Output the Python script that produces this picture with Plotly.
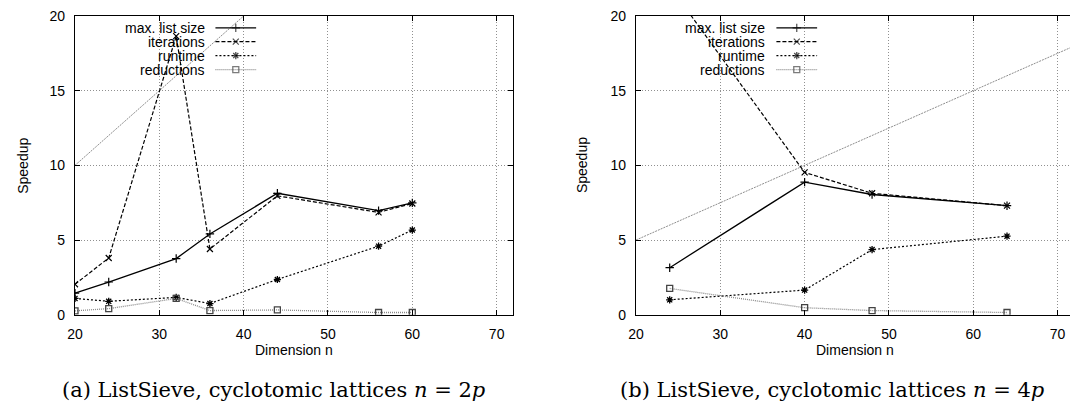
import plotly.graph_objects as go

# ---------------- data ----------------
n_a = [20, 24, 32, 36, 44, 56, 60]
maxlist_a = [1.44, 2.19, 3.76, 5.41, 8.13, 6.97, 7.49]
iter_a = [2.04, 3.80, 18.65, 4.40, 7.96, 6.85, 7.45]
runtime_a = [1.09, 0.90, 1.16, 0.75, 2.36, 4.59, 5.67]
reduct_a = [0.26, 0.41, 1.09, 0.28, 0.32, 0.15, 0.15]
ideal_a_x = [20, 72]
ideal_a_y = [10, 36]

n_b = [24, 40, 48, 64]
maxlist_b = [3.15, 8.88, 8.05, 7.30]
iter_b = [22.0, 9.53, 8.13, 7.30]
runtime_b = [1.00, 1.65, 4.36, 5.26]
reduct_b = [1.76, 0.47, 0.28, 0.15]
ideal_b_x = [20, 72]
ideal_b_y = [5, 18]

x_ticks = [20, 30, 40, 50, 60, 70]
y_ticks = [0, 5, 10, 15, 20]
series_names = ["max. list size", "iterations", "runtime", "reductions"]
captions = ["(a) ListSieve, cyclotomic lattices <i>n</i> = 2<i>p</i>",
            "(b) ListSieve, cyclotomic lattices <i>n</i> = 4<i>p</i>"]

# ---------------- layout constants ----------------
W, H = 1070, 416
FONT = "Liberation Sans, Arial, sans-serif"

PLOT_TOP, PLOT_BOTTOM = 8.3, 319.0
LEFT_A, RIGHT_A = 67.5, 509.3
LEFT_B = 632.7
RIGHT_B = W
PX_PER_UNIT = (RIGHT_A - LEFT_A) / 52.0

styles = [
    dict(line=dict(color="black", width=1.3, dash="solid"),
         marker=dict(symbol="cross-thin-open", size=6, color="black", line=dict(color="black", width=1.2))),
    dict(line=dict(color="black", width=1.2, dash="4px,2px"),
         marker=dict(symbol="x-thin-open", size=6, color="black", line=dict(color="black", width=1.2))),
    dict(line=dict(color="black", width=1.2, dash="2px,2px"),
         marker=dict(symbol="asterisk-open", size=6, color="black", line=dict(color="black", width=1.3))),
    dict(line=dict(color="#8a8a8a", width=1.3, dash="1px,1px"),
         marker=dict(symbol="square-open", size=6, color="#444", line=dict(color="#444", width=1.3))),
]
ideal_style = dict(color="#808080", width=0.9, dash="2px,1px")

fig = go.Figure()

def add_panel(xs, ys_list, ideal_x, ideal_y, xa, ya):
    fig.add_trace(go.Scatter(x=ideal_x, y=ideal_y, mode="lines", line=ideal_style,
                             xaxis=xa, yaxis=ya, showlegend=False, hoverinfo="skip"))
    for name, ys, st in zip(series_names, ys_list, styles):
        fig.add_trace(go.Scatter(x=xs, y=ys, mode="lines+markers", name=name,
                                 line=st["line"], marker=st["marker"],
                                 xaxis=xa, yaxis=ya, showlegend=False))

add_panel(n_a, [maxlist_a, iter_a, runtime_a, reduct_a], ideal_a_x, ideal_a_y, "x", "y")
add_panel(n_b, [maxlist_b, iter_b, runtime_b, reduct_b], ideal_b_x, ideal_b_y, "x2", "y2")

# ---------------- gnuplot-style legend keys (full-figure pixel axis) ----------------
LEG_ROWS = [20.7, 35.0, 49.5, 64.0]
LEG_TEXT_END = 132.5
LEG_LINE_START, LEG_LINE_END = 141.5, 182.5
annotations = []
for left in (LEFT_A, LEFT_B):
    for name, st, ry in zip(series_names, styles, LEG_ROWS):
        x0, x1 = left + LEG_LINE_START, left + LEG_LINE_END
        fig.add_trace(go.Scatter(
            x=[x0, (x0 + x1) / 2, x1], y=[ry, ry, ry], mode="lines+markers",
            line=st["line"],
            marker=dict(symbol=st["marker"]["symbol"], size=[0, 6, 0],
                        color=st["marker"]["color"], line=st["marker"]["line"]),
            xaxis="x3", yaxis="y3", showlegend=False, hoverinfo="skip", cliponaxis=False))
        annotations.append(dict(x=(left + LEG_TEXT_END) / W, y=1 - ry / H, xref="paper", yref="paper",
                                text=name, showarrow=False, xanchor="right", yanchor="middle",
                                font=dict(family=FONT, size=14, color="black")))

# axis titles and captions
for cx, ylab_x, cap_cx, cap in [((LEFT_A + RIGHT_A) / 2, 15.5, 268, captions[0]),
                                 (LEFT_B + 26 * PX_PER_UNIT, 579, 830, captions[1])]:
    annotations.append(dict(x=cx / W, y=1 - 356 / H, xref="paper", yref="paper", text="Dimension n",
                            showarrow=False, xanchor="center", yanchor="middle",
                            font=dict(family=FONT, size=14, color="black")))
    annotations.append(dict(x=ylab_x / W, y=1 - 163.7 / H, xref="paper", yref="paper", text="Speedup",
                            textangle=-90, showarrow=False, xanchor="center", yanchor="middle",
                            font=dict(family=FONT, size=14, color="black")))
    annotations.append(dict(x=cap_cx / W, y=1 - 397 / H, xref="paper", yref="paper", text=cap,
                            showarrow=False, xanchor="center", yanchor="middle",
                            font=dict(family="DejaVu Serif, serif", size=21, color="black")))

GRID = dict(showgrid=True, gridcolor="#909090", griddash="1px,2px", gridwidth=1, zeroline=False)

def xaxis(domain, rng, anchor):
    return dict(domain=domain, range=rng, tickvals=x_ticks, anchor=anchor, **GRID,
                showline=True, linecolor="black", linewidth=1.3, mirror="ticks",
                ticks="inside", ticklen=5, tickcolor="black",
                tickfont=dict(family=FONT, size=14, color="black"), ticklabelstandoff=6,
                fixedrange=True)

def yaxis(anchor, mirror):
    return dict(domain=[1 - PLOT_BOTTOM / H, 1 - PLOT_TOP / H], range=[0, 20], tickvals=y_ticks,
                anchor=anchor, **GRID, showline=True, linecolor="black", linewidth=1.3, mirror=mirror,
                ticks="inside", ticklen=5, tickcolor="black",
                tickfont=dict(family=FONT, size=14, color="black"), ticklabelstandoff=6,
                fixedrange=True)

range_b_end = 20 + (RIGHT_B - LEFT_B) / PX_PER_UNIT

fig.update_layout(
    width=W, height=H, margin=dict(l=0, r=0, t=0, b=0),
    paper_bgcolor="white", plot_bgcolor="rgba(0,0,0,0)", showlegend=False,
    hovermode=False,
    xaxis=xaxis([LEFT_A / W, RIGHT_A / W], [20, 72], "y"),
    yaxis=yaxis("x", "ticks"),
    xaxis2=xaxis([LEFT_B / W, 1.0], [20, range_b_end], "y2"),
    yaxis2=yaxis("x2", False),
    xaxis3=dict(domain=[0, 1], range=[0, W], visible=False, anchor="y3", fixedrange=True),
    yaxis3=dict(domain=[0, 1], range=[H, 0], visible=False, anchor="x3", fixedrange=True),
    annotations=annotations,
)

fig.write_html("out.html", config={"displayModeBar": False},
               post_script="document.body.style.margin='0';document.body.style.overflow='hidden';")
